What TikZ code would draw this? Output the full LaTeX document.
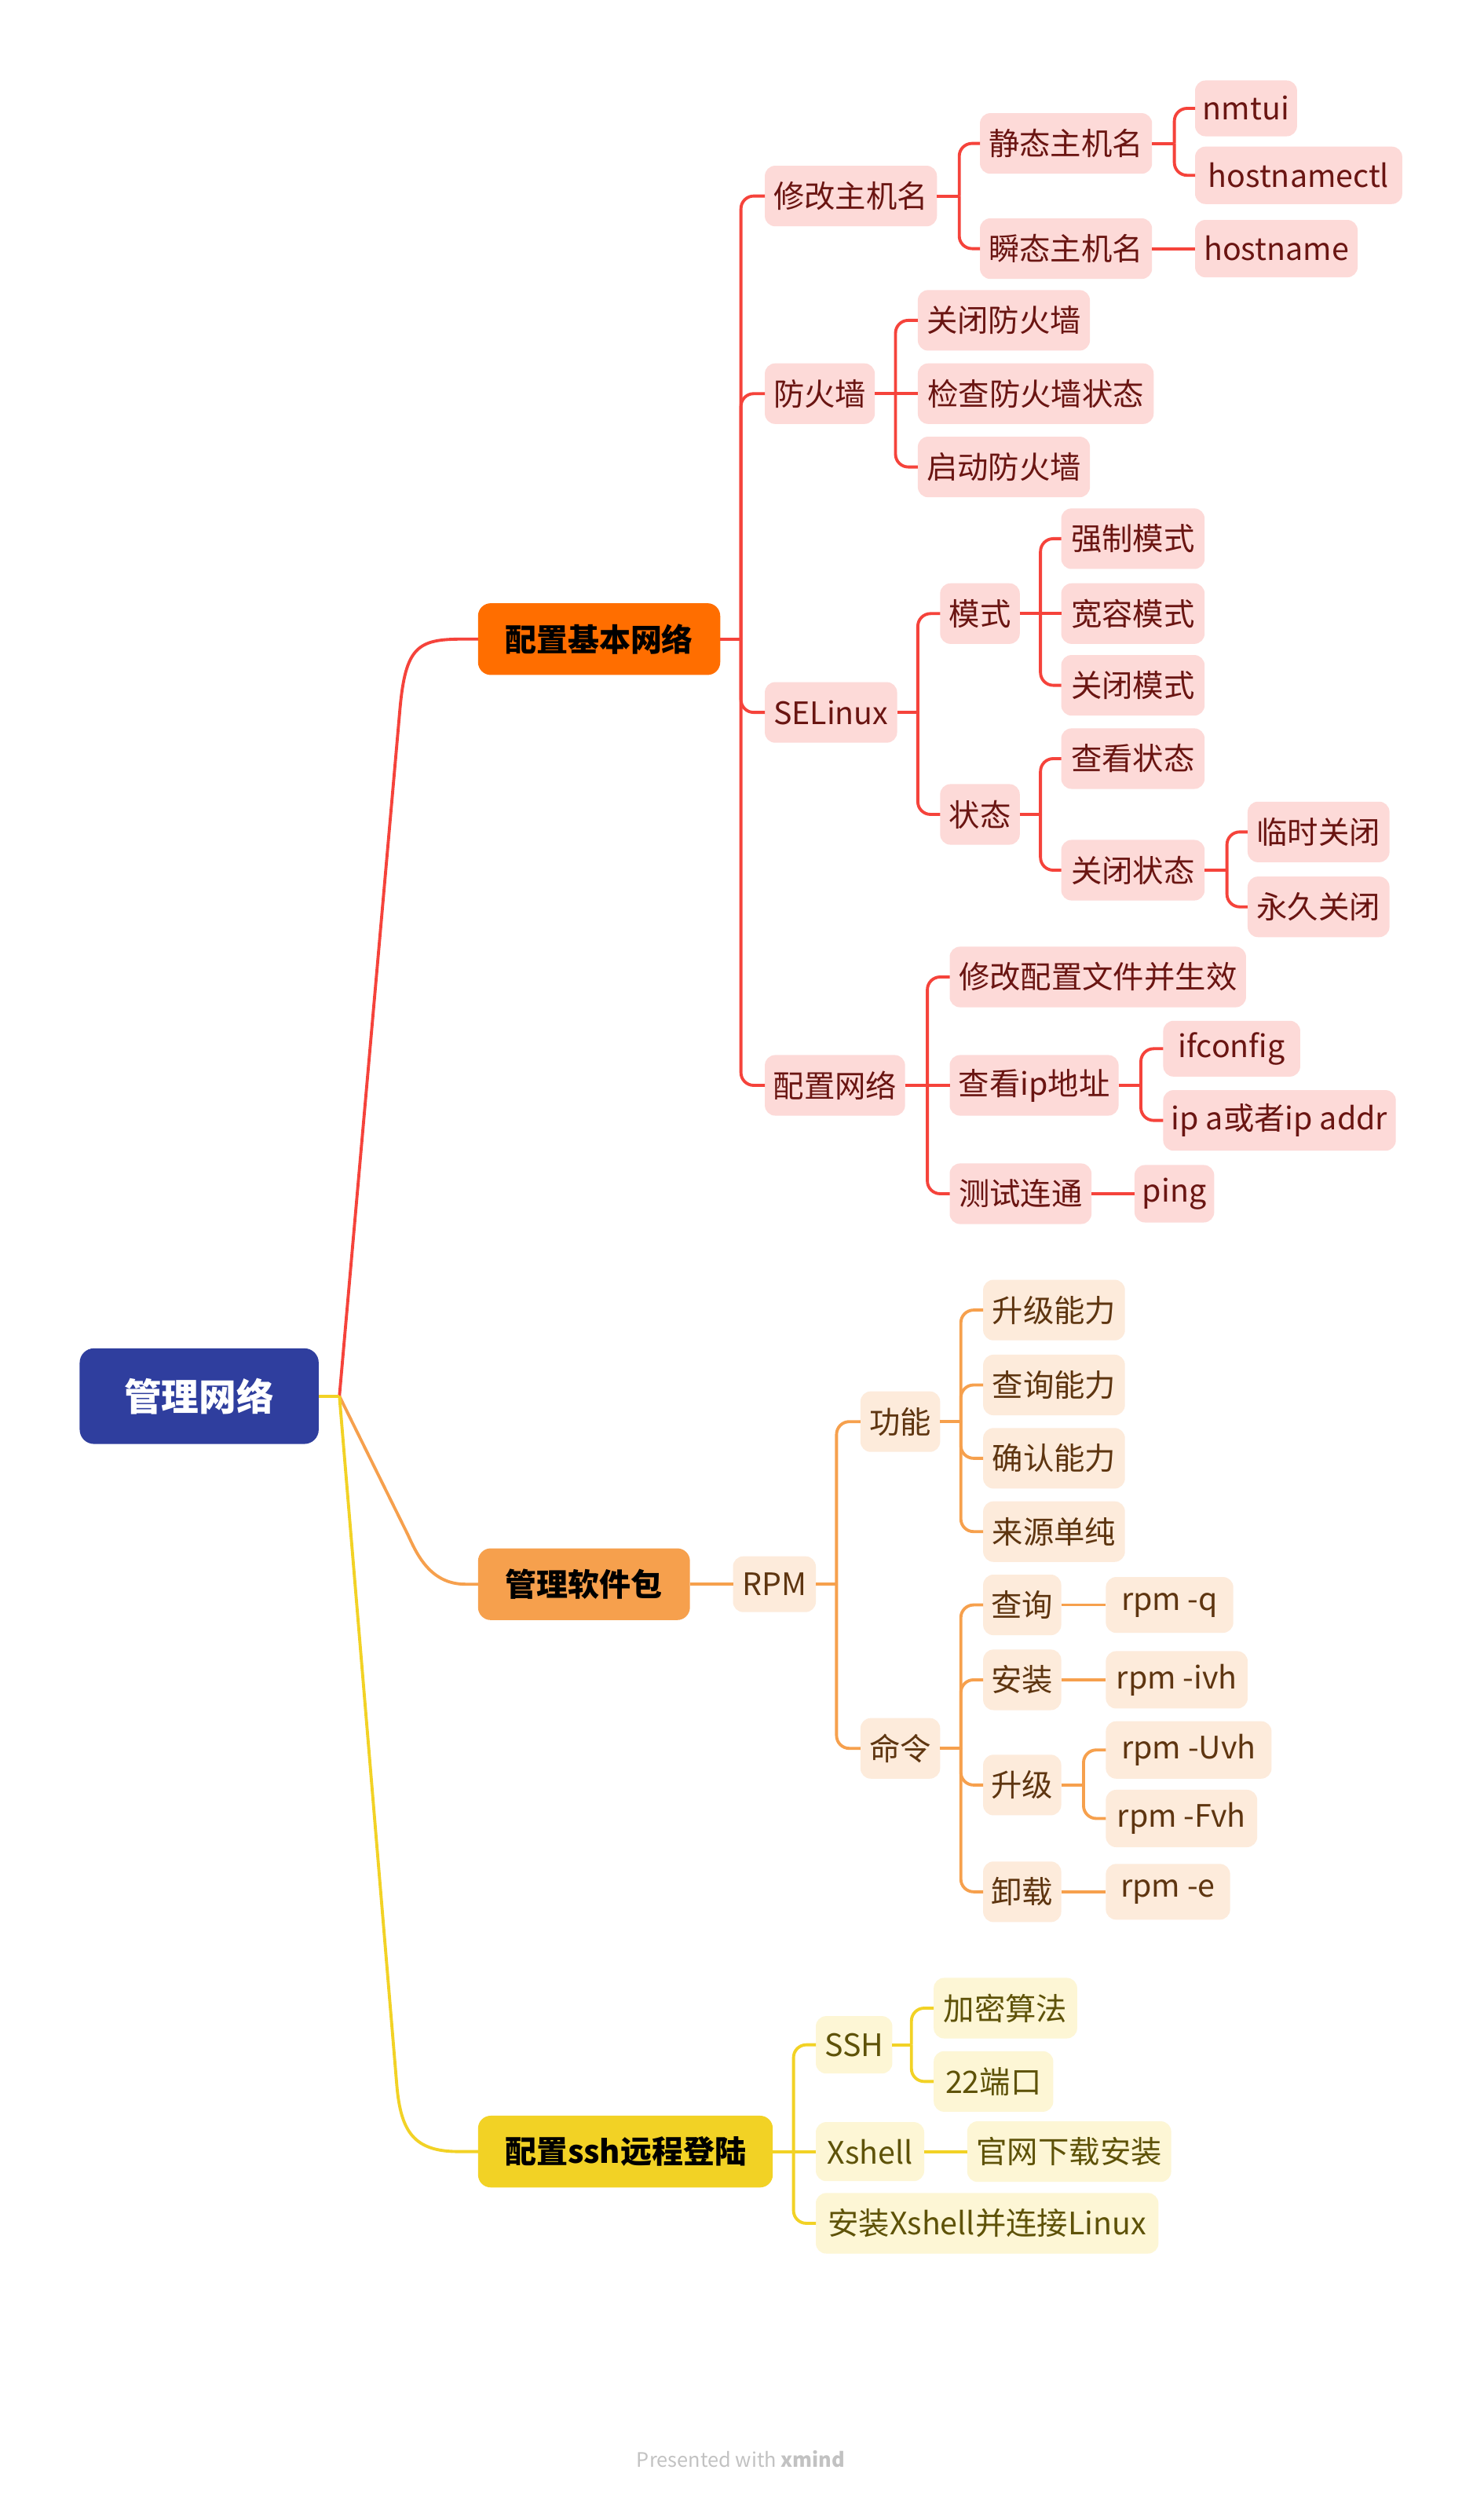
\documentclass[tikz,border=0pt]{standalone}
\usepackage{fontspec}
\setmainfont{Noto Sans CJK SC}
\newfontfamily\heavyfont{Noto Sans CJK SC Black}
\definecolor{rootc}{HTML}{2F3E9E}
\definecolor{rline}{HTML}{F5433B}
\definecolor{rmain}{HTML}{FF6E00}
\definecolor{rfill}{HTML}{FDDAD8}
\definecolor{rtext}{HTML}{6A1512}
\definecolor{oline}{HTML}{F6A04D}
\definecolor{ofill}{HTML}{FDEBDB}
\definecolor{otext}{HTML}{5E3510}
\definecolor{yline}{HTML}{F2D225}
\definecolor{yfill}{HTML}{FDF6D5}
\definecolor{ytext}{HTML}{5E5208}
\definecolor{foot}{HTML}{C2C2C2}
\newcommand\subfs{\fontsize{19.4}{22}\selectfont}
\newcommand\mainfs{\heavyfont\fontsize{19.7}{22}\selectfont}
\newcommand\rootfs{\heavyfont\fontsize{23.5}{26}\selectfont}
\newcommand\mmStem[3]{\draw[#1] (#2.east) -- (#3 |- #2.east);}
\newcommand\mmBranch[4]{\draw[#1,rounded corners=8pt] (#3 |- #2.east) -- (#3 |- #4.west) -- (#4.west);}
\newcommand\mmLine[3]{\draw[#1] (#2.east) -- (#3.west);}
\begin{document}
\begin{tikzpicture}[x=1pt,y=-1pt,
  every node/.style={inner sep=0pt, outer sep=0pt, align=center},
  box/.style={rounded corners=6.5pt, anchor=west, minimum height=38pt, font=\subfs},
  rb/.style={box, fill=rfill, text=rtext},
  ob/.style={box, fill=ofill, text=otext},
  yb/.style={box, fill=yfill, text=ytext},
  mainbox/.style={rounded corners=8pt, anchor=west, minimum height=45pt, font=\mainfs, text=black},
  rl/.style={draw=rline, line width=1.9pt},
  ol/.style={draw=oline, line width=1.9pt},
  yl/.style={draw=yline, line width=1.9pt}]
\fill[white] (0,0) rectangle (931,1568);
\useasboundingbox (0,0) rectangle (931,1568);

% root and main topics
\node[rounded corners=9pt, fill=rootc, text=white, font=\rootfs, minimum width=150pt, minimum height=60pt] (R) at (125,876) {管理网络};
\node[mainbox, fill=rmain, minimum width=152pt] (B1) at (300,401) {配置基本网络};
\node[mainbox, fill=oline, minimum width=133pt] (B2) at (300,994) {管理软件包};
\node[mainbox, fill=yline, minimum width=185pt] (B3) at (300,1350) {配置ssh远程登陆};

% ---------- red branch ----------
\node[rb, minimum width=108pt] (a1) at (480,123) {修改主机名};
\node[rb, minimum width=69pt] (a2) at (480,247) {防火墙};
\node[rb, minimum width=83pt] (a3) at (480,447) {SELinux};
\node[rb, minimum width=88pt] (a4) at (480,681) {配置网络};

\node[rb, minimum width=108pt] (a11) at (615,90) {静态主机名};
\node[rb, minimum width=108pt] (a12) at (615,156) {瞬态主机名};
\node[rb, minimum width=64pt, minimum height=35pt] (a111) at (750,68) {nmtui};
\node[rb, minimum width=130pt, minimum height=36pt] (a112) at (750,110) {hostnamectl};
\node[rb, minimum width=102pt, minimum height=36pt] (a121) at (750,156) {hostname};

\node[rb, minimum width=108pt] (a21) at (576,201) {关闭防火墙};
\node[rb, minimum width=148pt] (a22) at (576,247) {检查防火墙状态};
\node[rb, minimum width=108pt] (a23) at (576,293) {启动防火墙};

\node[rb, minimum width=50pt] (a31) at (590,385) {模式};
\node[rb, minimum width=50pt] (a32) at (590,511) {状态};
\node[rb, minimum width=90pt] (a311) at (666,338) {强制模式};
\node[rb, minimum width=90pt] (a312) at (666,385) {宽容模式};
\node[rb, minimum width=90pt] (a313) at (666,430) {关闭模式};
\node[rb, minimum width=90pt] (a321) at (666,476) {查看状态};
\node[rb, minimum width=90pt] (a322) at (666,546) {关闭状态};
\node[rb, minimum width=89pt] (a3221) at (783,522) {临时关闭};
\node[rb, minimum width=89pt] (a3222) at (783,569) {永久关闭};

\node[rb, minimum width=186pt] (a41) at (596,613) {修改配置文件并生效};
\node[rb, minimum width=106pt] (a42) at (596,681) {查看ip地址};
\node[rb, minimum width=89pt] (a43) at (596,749) {测试连通};
\node[rb, minimum width=86pt, minimum height=35pt] (a421) at (730,658) {ifconfig};
\node[rb, minimum width=146pt] (a422) at (730,703) {ip a或者ip addr};
\node[rb, minimum width=50pt, minimum height=36pt] (a431) at (712,749) {ping};

% ---------- orange branch ----------
\node[ob, minimum width=52pt, minimum height=35pt] (b1) at (460,994) {RPM};
\node[ob, minimum width=50pt] (b11) at (540,892) {功能};
\node[ob, minimum width=50pt] (b12) at (540,1097) {命令};
\node[ob, minimum width=89pt] (b111) at (617,822) {升级能力};
\node[ob, minimum width=89pt] (b112) at (617,869) {查询能力};
\node[ob, minimum width=89pt] (b113) at (617,915) {确认能力};
\node[ob, minimum width=89pt] (b114) at (617,961) {来源单纯};
\node[ob, minimum width=49pt] (b121) at (617,1007) {查询};
\node[ob, minimum width=49pt] (b122) at (617,1054) {安装};
\node[ob, minimum width=49pt] (b123) at (617,1120) {升级};
\node[ob, minimum width=49pt] (b124) at (617,1187) {卸载};
\node[ob, minimum width=80pt, minimum height=35pt] (b1211) at (694,1007) {rpm -q};
\node[ob, minimum width=89pt, minimum height=36pt] (b1221) at (694,1054) {rpm -ivh};
\node[ob, minimum width=104pt, minimum height=36pt] (b1231) at (694,1098) {rpm -Uvh};
\node[ob, minimum width=95pt, minimum height=36pt] (b1232) at (694,1141) {rpm -Fvh};
\node[ob, minimum width=78pt, minimum height=35pt] (b1241) at (694,1187) {rpm -e};

% ---------- yellow branch ----------
\node[yb, minimum width=48pt, minimum height=36pt] (c1) at (512,1283) {SSH};
\node[yb, minimum width=68pt, minimum height=37pt] (c2) at (512,1350) {Xshell};
\node[yb, minimum width=215pt] (c3) at (512,1395) {安装Xshell并连接Linux};
\node[yb, minimum width=90pt] (c11) at (586,1260) {加密算法};
\node[yb, minimum width=75pt] (c12) at (586,1306) {22端口};
\node[yb, minimum width=128pt] (c21) at (607,1350) {官网下载安装};

% footer
\node[text=foot, font=\fontsize{12.5}{14}\selectfont] (ft) at (465,1543) {Presented with \textbf{xmind}};

% ---------- root connectors ----------
\coordinate (J) at (213,876);
\draw[rl] (J) -- (251,445) .. controls (254.5,406) and (262,401) .. (290,401) -- (B1.west);
\draw[ol] (J) -- (256,963) .. controls (261.5,975) and (270,994) .. (292,994) -- (B2.west);
\draw[yl] (J) -- (249,1308) .. controls (251.5,1338) and (260,1350) .. (288,1350) -- (B3.west);
\draw[yl] (R.east) -- (J);

% ---------- trunks ----------
\coordinate (T1) at (465,0);
\coordinate (T2) at (602,0);
\coordinate (T3) at (737,0);
\coordinate (T4) at (562,0);
\coordinate (T5) at (576,0);
\coordinate (T6) at (653,0);
\coordinate (T7) at (653,0);
\coordinate (T8) at (770,0);
\coordinate (T9) at (582,0);
\coordinate (T10) at (716,0);
\coordinate (T11) at (525,0);
\coordinate (T12) at (603,0);
\coordinate (T13) at (603,0);
\coordinate (T14) at (680,0);
\coordinate (T15) at (498,0);
\coordinate (T16) at (572,0);

% red
\mmStem{rl}{B1}{T1}
\mmBranch{rl}{B1}{T1}{a1}
\mmBranch{rl}{B1}{T1}{a2}
\mmBranch{rl}{B1}{T1}{a3}
\mmBranch{rl}{B1}{T1}{a4}
\mmStem{rl}{a1}{T2}
\mmBranch{rl}{a1}{T2}{a11}
\mmBranch{rl}{a1}{T2}{a12}
\mmStem{rl}{a11}{T3}
\mmBranch{rl}{a11}{T3}{a111}
\mmBranch{rl}{a11}{T3}{a112}
\mmLine{rl}{a12}{a121}
\mmStem{rl}{a2}{T4}
\mmBranch{rl}{a2}{T4}{a21}
\mmLine{rl}{a2}{a22}
\mmBranch{rl}{a2}{T4}{a23}
\mmStem{rl}{a3}{T5}
\mmBranch{rl}{a3}{T5}{a31}
\mmBranch{rl}{a3}{T5}{a32}
\mmStem{rl}{a31}{T6}
\mmBranch{rl}{a31}{T6}{a311}
\mmLine{rl}{a31}{a312}
\mmBranch{rl}{a31}{T6}{a313}
\mmStem{rl}{a32}{T7}
\mmBranch{rl}{a32}{T7}{a321}
\mmBranch{rl}{a32}{T7}{a322}
\mmStem{rl}{a322}{T8}
\mmBranch{rl}{a322}{T8}{a3221}
\mmBranch{rl}{a322}{T8}{a3222}
\mmStem{rl}{a4}{T9}
\mmBranch{rl}{a4}{T9}{a41}
\mmLine{rl}{a4}{a42}
\mmBranch{rl}{a4}{T9}{a43}
\mmStem{rl}{a42}{T10}
\mmBranch{rl}{a42}{T10}{a421}
\mmBranch{rl}{a42}{T10}{a422}
\mmLine{rl}{a43}{a431}

% orange
\mmLine{ol}{B2}{b1}
\mmStem{ol}{b1}{T11}
\mmBranch{ol}{b1}{T11}{b11}
\mmBranch{ol}{b1}{T11}{b12}
\mmStem{ol}{b11}{T12}
\mmBranch{ol}{b11}{T12}{b111}
\mmBranch{ol}{b11}{T12}{b112}
\mmBranch{ol}{b11}{T12}{b113}
\mmBranch{ol}{b11}{T12}{b114}
\mmStem{ol}{b12}{T13}
\mmBranch{ol}{b12}{T13}{b121}
\mmBranch{ol}{b12}{T13}{b122}
\mmBranch{ol}{b12}{T13}{b123}
\mmBranch{ol}{b12}{T13}{b124}
\mmLine{ol}{b121}{b1211}
\mmLine{ol}{b122}{b1221}
\mmStem{ol}{b123}{T14}
\mmBranch{ol}{b123}{T14}{b1231}
\mmBranch{ol}{b123}{T14}{b1232}
\mmLine{ol}{b124}{b1241}

% yellow
\mmStem{yl}{B3}{T15}
\mmBranch{yl}{B3}{T15}{c1}
\mmLine{yl}{B3}{c2}
\mmBranch{yl}{B3}{T15}{c3}
\mmStem{yl}{c1}{T16}
\mmBranch{yl}{c1}{T16}{c11}
\mmBranch{yl}{c1}{T16}{c12}
\mmLine{yl}{c2}{c21}
\end{tikzpicture}
\end{document}
